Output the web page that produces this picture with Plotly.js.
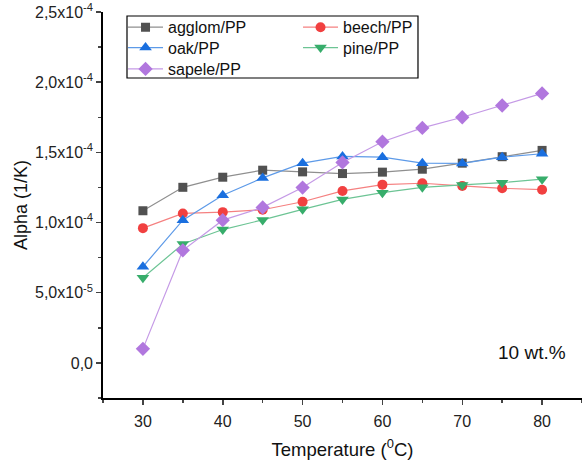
<!DOCTYPE html>
<html><head><meta charset="utf-8">
<script src="https://cdn.plot.ly/plotly-3.0.1.min.js"></script>
<style>html,body{margin:0;padding:0;background:#fff}#c{width:582px;height:463px}</style>
</head><body><div id="c"></div>
<script>
const temperature = [30, 35, 40, 45, 50, 55, 60, 65, 70, 75, 80];
const agglom = [1.084e-4, 1.251e-4, 1.323e-4, 1.373e-4, 1.361e-4, 1.349e-4, 1.359e-4, 1.380e-4, 1.423e-4, 1.469e-4, 1.514e-4];
const beech  = [0.960e-4, 1.065e-4, 1.074e-4, 1.091e-4, 1.148e-4, 1.225e-4, 1.270e-4, 1.280e-4, 1.261e-4, 1.244e-4, 1.234e-4];
const oak    = [0.685e-4, 1.017e-4, 1.194e-4, 1.318e-4, 1.423e-4, 1.471e-4, 1.466e-4, 1.423e-4, 1.421e-4, 1.466e-4, 1.490e-4];
const pine   = [0.607e-4, 0.847e-4, 0.950e-4, 1.019e-4, 1.094e-4, 1.165e-4, 1.213e-4, 1.251e-4, 1.268e-4, 1.284e-4, 1.309e-4];
const sapele = [0.100e-4, 0.802e-4, 1.017e-4, 1.108e-4, 1.249e-4, 1.428e-4, 1.576e-4, 1.674e-4, 1.750e-4, 1.834e-4, 1.920e-4];
const seriesNames = ['agglom/PP', 'beech/PP', 'oak/PP', 'pine/PP', 'sapele/PP'];
const yTickVals = [0, 5e-5, 1e-4, 1.5e-4, 2e-4, 2.5e-4];
const yTickText = ['0,0', '5,0x10<sup>-5</sup>', '1,0x10<sup>-4</sup>', '1,5x10<sup>-4</sup>', '2,0x10<sup>-4</sup>', '2,5x10<sup>-4</sup>'];
const xTickVals = [30, 40, 50, 60, 70, 80];

const styles = [
  {mc: '#515151', lc: '#8f8f8f', sym: 'square', size: 9, lg: 'legend'},
  {mc: '#F14040', lc: '#f58080', sym: 'circle', size: 10, lg: 'legend'},
  {mc: '#1A6FDF', lc: '#5d9ae8', sym: 'triangle-up', size: 11, lg: 'legend2'},
  {mc: '#37AD6B', lc: '#6cc494', sym: 'triangle-down', size: 11, lg: 'legend2'},
  {mc: '#B177DE', lc: '#c59ae6', sym: 'diamond', size: 11, lg: 'legend3'}
];
const values = [agglom, beech, oak, pine, sapele];
const traces = values.map((v, i) => ({
  x: temperature, y: v, name: seriesNames[i], type: 'scatter', mode: 'lines+markers',
  legend: styles[i].lg,
  line: {color: styles[i].lc, width: 1.2},
  marker: {color: styles[i].mc, symbol: styles[i].sym, size: styles[i].size}
}));

const font = 'Arial, "Liberation Sans", sans-serif';
function legendRow(yc) {
  return {
    x: 0.0418, y: yc, xanchor: 'left', yanchor: 'middle',
    orientation: 'h', entrywidth: 125, entrywidthmode: 'pixels', itemwidth: 35,
    borderwidth: 0, bgcolor: 'rgba(0,0,0,0)',
    font: {family: font, size: 16, color: '#111'}
  };
}
const layout = {
  width: 582, height: 463,
  margin: {l: 103, r: 0, t: 12, b: 65},
  paper_bgcolor: '#fff', plot_bgcolor: '#fff',
  font: {family: font, size: 16, color: '#222'},
  showlegend: true,
  legend: legendRow(0.9604),
  legend2: legendRow(0.9075),
  legend3: legendRow(0.8523),
  shapes: [{
    type: 'rect', xref: 'paper', yref: 'paper',
    x0: 0.0501, x1: 0.6576, y0: 0.829, y1: 0.9896,
    line: {color: '#000', width: 1.2}, fillcolor: 'rgba(0,0,0,0)', layer: 'above'
  }],
  xaxis: {
    range: [25, 85], tickvals: xTickVals, ticks: 'outside', ticklen: 5, tickwidth: 1.5,
    showline: true, linecolor: '#000', linewidth: 1.8, showgrid: false, zeroline: false,
    minor: {dtick: 5, tick0: 25, ticks: 'outside', ticklen: 3, tickwidth: 1.5, showgrid: false},
    tickfont: {size: 16}, ticklabelstandoff: 3,
    title: {text: 'Temperature (<sup>0</sup>C)', font: {size: 18.5, color: '#111'}, standoff: 14}
  },
  yaxis: {
    range: [-2.5e-5, 2.5e-4], tickvals: yTickVals, ticktext: yTickText, ticks: 'outside', ticklen: 5, tickwidth: 1.5,
    showline: true, linecolor: '#000', linewidth: 1.8, showgrid: false, zeroline: false,
    minor: {dtick: 2.5e-5, tick0: 0, ticks: 'outside', ticklen: 3, tickwidth: 1.5, showgrid: false},
    tickfont: {size: 16},
    title: {text: 'Alpha (1/K)', font: {size: 18, color: '#111'}, standoff: 3}
  },
  annotations: [{
    xref: 'paper', yref: 'paper', x: 0.971, y: 0.119, xanchor: 'right', yanchor: 'middle',
    text: '10 wt.%', showarrow: false, font: {size: 19, color: '#111'}
  }]
};
Plotly.newPlot('c', traces, layout, {displayModeBar: false, staticPlot: true});
</script></body></html>
